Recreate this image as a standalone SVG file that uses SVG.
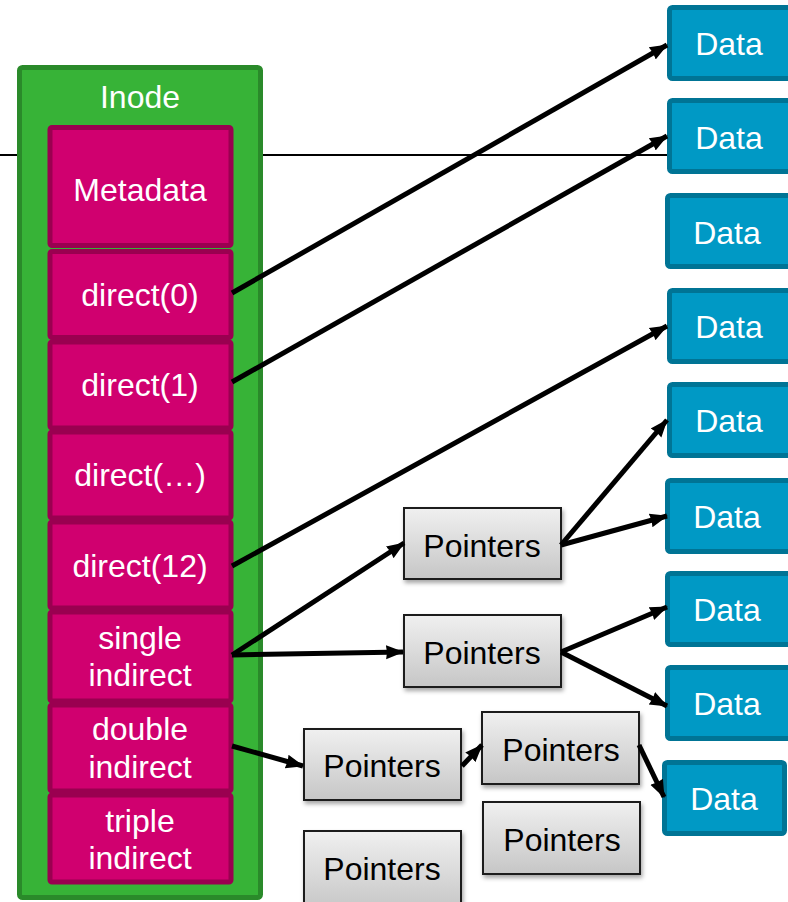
<svg xmlns="http://www.w3.org/2000/svg" width="788" height="902" viewBox="0 0 788 902">
  <defs>
    <linearGradient id="ptrFill" x1="0" y1="0" x2="0" y2="1">
      <stop offset="0" stop-color="#f0f0f0"/>
      <stop offset="1" stop-color="#c6c6c6"/>
    </linearGradient>
    <filter id="shadow" x="-10%" y="-10%" width="125%" height="135%">
      <feDropShadow dx="1.5" dy="3" stdDeviation="2" flood-color="#000" flood-opacity="0.35"/>
    </filter>
    <marker id="arrow" markerUnits="userSpaceOnUse" markerWidth="20" markerHeight="18" refX="17" refY="9" orient="auto">
      <path d="M0,2 L18,9 L0,16 L1,9 Z" fill="#000"/>
    </marker>
    <style>
      text { font-family: "Liberation Sans", Arial, sans-serif; font-size: 32px; text-anchor: middle; }
      .light { fill: #ffffff; }
      .dark { fill: #000000; }
      .inode { fill: #37b337; stroke: #2a8a2a; stroke-width: 5; }
      .cell { fill: #d0006f; stroke: #9a0050; stroke-width: 5; }
      .data { fill: #0099c5; stroke: #007495; stroke-width: 5; }
      .ptr { fill: url(#ptrFill); stroke: #1a1a1a; stroke-width: 2; filter: url(#shadow); }
      .conn { stroke: #000; stroke-width: 5; fill: none; marker-end: url(#arrow); }
    </style>
  </defs>

  <!-- horizontal rule behind the inode -->
  <line x1="0" y1="155" x2="668" y2="155" stroke="#000" stroke-width="2"/>

  <!-- inode with its block pointer fields -->
  <g id="inode">
    <rect class="inode" x="19.5" y="67.5" width="241" height="830" rx="3"/>
    <text class="light" x="140" y="108">Inode</text>
  </g>
  <g id="metadata">
    <rect class="cell" x="50" y="127.5" width="181" height="118" rx="2"/>
    <text class="light" x="140" y="201">Metadata</text>
  </g>
  <g id="direct0">
    <rect class="cell" x="50" y="251.5" width="181" height="86" rx="2"/>
    <text class="light" x="140" y="306">direct(0)</text>
  </g>
  <g id="direct1">
    <rect class="cell" x="50" y="342" width="181" height="86" rx="2"/>
    <text class="light" x="140" y="396">direct(1)</text>
  </g>
  <g id="directN">
    <rect class="cell" x="50" y="432" width="181" height="86" rx="2"/>
    <text class="light" x="140" y="486">direct(…)</text>
  </g>
  <g id="direct12">
    <rect class="cell" x="50" y="522" width="181" height="86" rx="2"/>
    <text class="light" x="140" y="577">direct(12)</text>
  </g>
  <g id="single-indirect">
    <rect class="cell" x="50" y="612" width="181" height="89" rx="2"/>
    <text class="light" x="140" y="649">single</text>
    <text class="light" x="140" y="686">indirect</text>
  </g>
  <g id="double-indirect">
    <rect class="cell" x="50" y="705" width="181" height="86" rx="2"/>
    <text class="light" x="140" y="740">double</text>
    <text class="light" x="140" y="778">indirect</text>
  </g>
  <g id="triple-indirect">
    <rect class="cell" x="50" y="795" width="181" height="87" rx="2"/>
    <text class="light" x="140" y="832">triple</text>
    <text class="light" x="140" y="869">indirect</text>
  </g>

  <!-- data blocks -->
  <g id="data1"><rect class="data" x="669.5" y="7.5" width="125" height="71" rx="3"/><text class="light" x="729" y="55">Data</text></g>
  <g id="data2"><rect class="data" x="669.5" y="100.5" width="125" height="71" rx="3"/><text class="light" x="729" y="149">Data</text></g>
  <g id="data3"><rect class="data" x="667.5" y="195.5" width="125" height="71" rx="3"/><text class="light" x="727" y="244">Data</text></g>
  <g id="data4"><rect class="data" x="669.5" y="290.5" width="125" height="71" rx="3"/><text class="light" x="729" y="338">Data</text></g>
  <g id="data5"><rect class="data" x="669.5" y="384.5" width="125" height="71" rx="3"/><text class="light" x="729" y="432">Data</text></g>
  <g id="data6"><rect class="data" x="667.5" y="480.5" width="125" height="71" rx="3"/><text class="light" x="727" y="528">Data</text></g>
  <g id="data7"><rect class="data" x="667.5" y="573.5" width="125" height="71" rx="3"/><text class="light" x="727" y="621">Data</text></g>
  <g id="data8"><rect class="data" x="667.5" y="667.5" width="125" height="71" rx="3"/><text class="light" x="727" y="715">Data</text></g>
  <g id="data9"><rect class="data" x="664.5" y="762.5" width="120" height="71" rx="3"/><text class="light" x="724" y="810">Data</text></g>

  <!-- indirect pointer blocks -->
  <g id="ptr1"><rect class="ptr" x="404" y="508" width="157" height="71"/><text class="dark" x="482" y="557">Pointers</text></g>
  <g id="ptr2"><rect class="ptr" x="404" y="615" width="157" height="72"/><text class="dark" x="482" y="664">Pointers</text></g>
  <g id="ptr3"><rect class="ptr" x="304" y="729" width="157" height="71"/><text class="dark" x="382" y="777">Pointers</text></g>
  <g id="ptr4"><rect class="ptr" x="482" y="712" width="157" height="72"/><text class="dark" x="561" y="761">Pointers</text></g>
  <g id="ptr5"><rect class="ptr" x="483" y="802" width="157" height="72"/><text class="dark" x="562" y="851">Pointers</text></g>
  <g id="ptr6"><rect class="ptr" x="304" y="831" width="157" height="80"/><text class="dark" x="382" y="880">Pointers</text></g>

  <!-- connectors -->
  <g id="connectors">
    <line class="conn" x1="232" y1="293" x2="667" y2="45"/>
    <line class="conn" x1="232" y1="382" x2="667" y2="136"/>
    <line class="conn" x1="232" y1="566" x2="667" y2="326"/>
    <line class="conn" x1="232" y1="655" x2="404" y2="543"/>
    <line class="conn" x1="232" y1="655" x2="403" y2="652"/>
    <line class="conn" x1="561" y1="545" x2="667" y2="420"/>
    <line class="conn" x1="561" y1="545" x2="667" y2="516"/>
    <line class="conn" x1="561" y1="652" x2="667" y2="607"/>
    <line class="conn" x1="561" y1="652" x2="667" y2="706"/>
    <line class="conn" x1="232" y1="746" x2="303" y2="766"/>
    <line class="conn" x1="462" y1="766" x2="482" y2="745"/>
    <line class="conn" x1="639" y1="745" x2="664" y2="797"/>
  </g>
</svg>
